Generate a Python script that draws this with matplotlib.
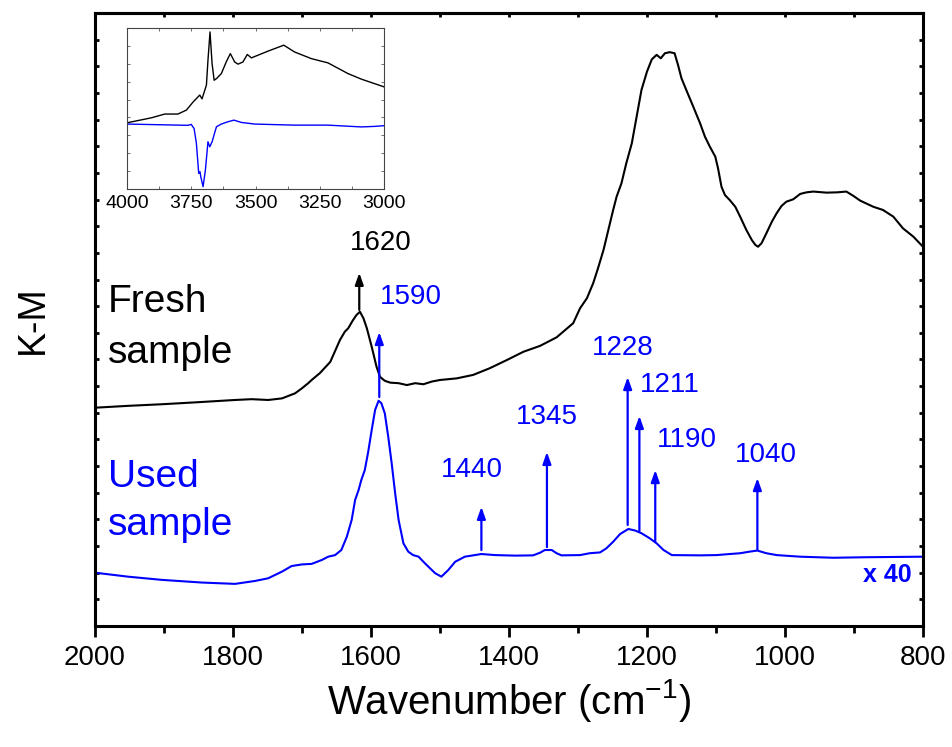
import numpy as np
import matplotlib
matplotlib.use('Agg')
import matplotlib.pyplot as plt
from matplotlib.ticker import MultipleLocator, NullFormatter

plt.rcParams['font.family'] = ['Liberation Sans', 'DejaVu Sans']
plt.rcParams['mathtext.default'] = 'regular'

BLUE = '#0000ff'

# Main spectrum, fresh sample (wavenumber, K-M arb. units)
fresh_wn = [2000, 1952, 1903, 1855, 1797, 1773, 1749, 1729, 1720, 1710, 1700, 1691,
            1686, 1674, 1659, 1645, 1638, 1633, 1626, 1621, 1616, 1611, 1606, 1599,
            1592, 1587, 1580, 1572, 1560, 1548, 1536, 1524, 1512, 1500, 1476, 1452,
            1428, 1403, 1379, 1355, 1331, 1307, 1297, 1287, 1278, 1271, 1263, 1256,
            1249, 1244, 1237, 1230, 1222, 1215, 1208, 1200, 1193, 1186, 1180, 1174,
            1167, 1160, 1155, 1150, 1143, 1133, 1123, 1116, 1109, 1101, 1097, 1092,
            1087, 1080, 1072, 1065, 1056, 1048, 1043, 1039, 1034, 1027, 1019, 1012,
            1005, 998, 988, 978, 969, 959, 940, 925, 911, 901, 891, 872, 858, 843,
            829, 814, 800]
fresh_km = [8.19, 8.26, 8.32, 8.39, 8.48, 8.51, 8.48, 8.54, 8.63, 8.73, 8.92, 9.11,
            9.23, 9.49, 9.91, 10.73, 11.04, 11.17, 11.48, 11.67, 11.79, 11.55, 11.17,
            10.48, 9.73, 9.35, 9.20, 9.13, 9.11, 9.04, 9.11, 9.07, 9.17, 9.23, 9.29,
            9.42, 9.67, 9.98, 10.29, 10.51, 10.83, 11.36, 11.92, 12.30, 12.86, 13.42,
            14.11, 14.86, 15.61, 16.11, 16.61, 17.36, 18.11, 19.11, 20.11, 20.80,
            21.26, 21.43, 21.30, 21.49, 21.53, 21.49, 21.05, 20.55, 20.11, 19.49,
            18.86, 18.36, 17.99, 17.61, 17.17, 16.48, 16.17, 15.98, 15.73, 15.36,
            14.86, 14.48, 14.30, 14.23, 14.36, 14.73, 15.17, 15.49, 15.76, 15.92,
            16.01, 16.21, 16.27, 16.30, 16.26, 16.27, 16.30, 16.14, 15.96, 15.73,
            15.61, 15.36, 14.92, 14.61, 14.23]

# Main spectrum, used sample (x 40, offset)
used_wn = [2000, 1952, 1903, 1845, 1797, 1768, 1749, 1729, 1715, 1700, 1686, 1671,
           1662, 1652, 1643, 1635, 1628, 1623, 1618, 1614, 1609, 1604, 1599, 1594,
           1589, 1585, 1580, 1575, 1570, 1565, 1560, 1553, 1546, 1539, 1531, 1524,
           1517, 1507, 1498, 1488, 1478, 1464, 1440, 1420, 1391, 1365, 1355, 1348,
           1338, 1331, 1324, 1297, 1283, 1268, 1259, 1249, 1239, 1227, 1217, 1208,
           1196, 1186, 1176, 1164, 1123, 1099, 1085, 1065, 1051, 1040, 1027, 1012,
           978, 930, 882, 800]
used_km = [2.00, 1.85, 1.73, 1.63, 1.58, 1.69, 1.79, 2.04, 2.25, 2.31, 2.33, 2.48,
           2.60, 2.66, 2.85, 3.35, 3.98, 4.73, 5.10, 5.48, 5.85, 6.54, 7.35, 8.11,
           8.45, 8.36, 7.98, 7.10, 6.10, 4.98, 3.98, 3.10, 2.79, 2.66, 2.60, 2.41,
           2.23, 1.98, 1.85, 2.10, 2.41, 2.60, 2.70, 2.66, 2.64, 2.65, 2.75, 2.85,
           2.85, 2.73, 2.65, 2.66, 2.73, 2.76, 2.91, 3.16, 3.45, 3.64, 3.58, 3.48,
           3.29, 3.10, 2.85, 2.66, 2.65, 2.66, 2.69, 2.73, 2.79, 2.83, 2.73, 2.66,
           2.60, 2.56, 2.58, 2.60]

# Peak markers: position, arrow base, arrow tip, label position
peak_labels = ['1590', '1440', '1345', '1228', '1211', '1190', '1040']
peak_wn = [1588, 1440, 1345, 1228, 1211, 1188, 1040]
peak_base = [8.59, 2.85, 2.96, 3.79, 3.56, 3.15, 2.85]
peak_tip = [11.03, 4.47, 6.53, 9.34, 7.88, 5.85, 5.55]
label_wn = [1542, 1454, 1345, 1235, 1167, 1142, 1028]
label_km = [12.35, 5.85, 7.84, 10.43, 9.04, 6.98, 6.42]

fresh_peak_wn = 1617
fresh_peak_base = 11.86
fresh_peak_tip = 13.25

# Inset: OH region
inset_fresh_wn = [4000, 3905, 3853, 3802, 3769, 3743, 3717, 3708, 3691, 3685, 3677,
                  3669, 3661, 3652, 3633, 3614, 3598, 3581, 3568, 3549, 3532, 3516,
                  3451, 3390, 3348, 3283, 3218, 3140, 3088, 3000]
inset_fresh_km = [3.70, 3.98, 4.19, 4.19, 4.41, 4.86, 5.25, 5.04, 5.81, 7.20, 8.78,
                  7.01, 6.08, 6.17, 6.45, 7.10, 7.57, 7.10, 6.98, 7.10, 7.52, 7.33,
                  7.71, 8.04, 7.66, 7.29, 7.05, 6.45, 6.14, 5.71]
inset_used_wn = [4000, 3763, 3750, 3739, 3730, 3721, 3716, 3713, 3704, 3695, 3685,
                 3678, 3669, 3652, 3633, 3607, 3584, 3555, 3503, 3348, 3218, 3088,
                 3036, 3000]
inset_used_km = [3.63, 3.56, 3.61, 3.38, 2.55, 0.87, 0.97, 0.69, 0.13, 1.06, 2.64,
                 2.36, 2.64, 3.48, 3.63, 3.76, 3.85, 3.72, 3.63, 3.57, 3.57, 3.47,
                 3.50, 3.54]

fig = plt.figure(figsize=(9.52, 7.47), dpi=100)
ax = fig.add_axes([0.0998, 0.162, 0.8697, 0.8206])

ax.plot(fresh_wn, fresh_km, color='black', lw=1.5, solid_joinstyle='round')
ax.plot(used_wn, used_km, color=BLUE, lw=1.5, solid_joinstyle='round')

arrow_style = dict(arrowstyle='-|>,head_length=0.7,head_width=0.25', lw=1.6,
                   shrinkA=0, shrinkB=0)
ax.annotate('', xy=(fresh_peak_wn, fresh_peak_tip), xytext=(fresh_peak_wn, fresh_peak_base),
            arrowprops=dict(color='black', **arrow_style))
ax.text(1586, 14.37, '1620', fontsize=20, ha='center', va='center', color='black')

for lab, x, b, t, lx, ly in zip(peak_labels, peak_wn, peak_base, peak_tip, label_wn, label_km):
    ax.annotate('', xy=(x, t), xytext=(x, b), arrowprops=dict(color=BLUE, **arrow_style))
    ax.text(lx, ly, lab, fontsize=20, ha='center', va='center', color=BLUE)

ax.text(852, 1.91, 'x 40', fontsize=18, fontweight='bold', ha='center', va='center', color=BLUE)
ax.text(1981, 11.78, 'Fresh', fontsize=28, ha='left', va='baseline', color='black')
ax.text(1981, 9.87, 'sample', fontsize=28, ha='left', va='baseline', color='black')
ax.text(1981, 5.22, 'Used', fontsize=28, ha='left', va='baseline', color=BLUE)
ax.text(1981, 3.41, 'sample', fontsize=28, ha='left', va='baseline', color=BLUE)

ax.set_xlim(2000, 800)
ax.set_ylim(0, 23)
ax.set_xlabel('Wavenumber (cm$^{-1}$)', fontsize=29, labelpad=4)
ax.set_ylabel('K-M', fontsize=27, labelpad=28)

ax.xaxis.set_major_locator(MultipleLocator(200))
ax.xaxis.set_minor_locator(MultipleLocator(100))
ax.tick_params(axis='x', which='major', direction='out', length=8, width=2,
               labelsize=20, pad=6)
ax.tick_params(axis='x', which='minor', direction='out', length=5, width=2)
ax.yaxis.set_major_locator(MultipleLocator(1))
ax.yaxis.set_major_formatter(NullFormatter())
ax.tick_params(axis='y', which='both', direction='in', length=3, width=2,
               left=True, right=True)
top = ax.secondary_xaxis('top')
top.xaxis.set_major_locator(MultipleLocator(100))
top.tick_params(direction='in', length=3, width=2, labeltop=False)
for sp in ax.spines.values():
    sp.set_linewidth(2.2)
top.spines['top'].set_linewidth(2.2)

# Inset
ins = fig.add_axes([0.1334, 0.747, 0.27, 0.2155])
ins.plot(inset_fresh_wn, inset_fresh_km, color='black', lw=1.0, solid_joinstyle='round')
ins.plot(inset_used_wn, inset_used_km, color=BLUE, lw=1.0, solid_joinstyle='round')
ins.set_xlim(4000, 3000)
ins.set_ylim(0, 9)
ins.xaxis.set_major_locator(MultipleLocator(250))
ins.xaxis.set_minor_locator(MultipleLocator(125))
ins.yaxis.set_major_locator(MultipleLocator(1))
ins.yaxis.set_major_formatter(NullFormatter())
ins.tick_params(axis='both', which='both', direction='in', top=True, right=True,
                length=2.5, width=0.6, color='#555555')
ins.tick_params(axis='x', labelsize=14, pad=4)
for sp in ins.spines.values():
    sp.set_linewidth(0.8)
    sp.set_color('#444444')

fig.savefig('out.png', dpi=100)
